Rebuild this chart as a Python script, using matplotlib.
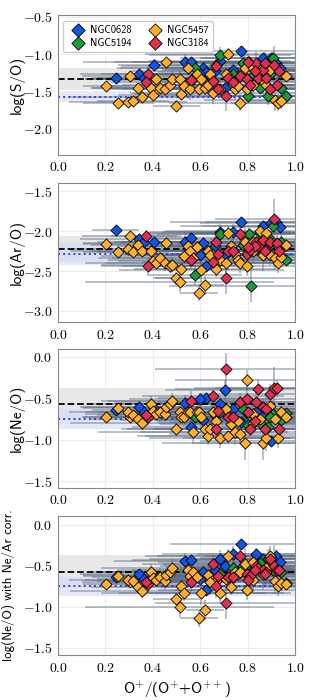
import numpy as np
import matplotlib
matplotlib.use("Agg")
import matplotlib.pyplot as plt
from matplotlib.ticker import FuncFormatter, MultipleLocator

# O+/(O+ + O++) por galáxia (compartilhado entre os painéis)
x_0628 = [0.243, 0.342, 0.363, 0.404, 0.537, 0.560, 0.612, 0.623, 0.684, 0.703,
          0.771, 0.865, 0.920, 0.935, 0.738, 0.837, 0.661, 0.598, 0.900]
x_5194 = [0.682, 0.577, 0.806, 0.802, 0.886, 0.907, 0.960, 0.816, 0.738, 0.852,
          0.940, 0.780, 0.893]
x_3184 = [0.380, 0.373, 0.560, 0.654, 0.665, 0.707, 0.717, 0.767, 0.795, 0.809,
          0.837, 0.844, 0.865, 0.879, 0.893, 0.911, 0.922, 0.872, 0.675, 0.830,
          0.802, 0.930, 0.738]
x_5457 = [0.204, 0.253, 0.302, 0.295, 0.316, 0.338, 0.352, 0.394, 0.401, 0.415,
          0.429, 0.450, 0.457, 0.471, 0.482, 0.499, 0.513, 0.520, 0.532, 0.549,
          0.556, 0.570, 0.584, 0.595, 0.605, 0.619, 0.633, 0.654, 0.668, 0.682,
          0.717, 0.731, 0.745, 0.760, 0.767, 0.788, 0.795, 0.823, 0.851, 0.865,
          0.879, 0.893, 0.914, 0.928, 0.942, 0.960, 0.707, 0.640, 0.823]

# erros em x
xe_0628 = [0.10, 0.25, 0.20, 0.15, 0.30, 0.25, 0.35, 0.20, 0.30, 0.25,
           0.30, 0.35, 0.30, 0.20, 0.30, 0.25, 0.35, 0.30, 0.30]
xe_5194 = [0.30, 0.20, 0.25, 0.30, 0.20, 0.30, 0.10, 0.35, 0.25, 0.30,
           0.15, 0.35, 0.25]
xe_3184 = [0.20, 0.15, 0.35, 0.30, 0.40, 0.30, 0.25, 0.35, 0.30, 0.40,
           0.25, 0.35, 0.30, 0.40, 0.30, 0.25, 0.35, 0.30, 0.40, 0.30,
           0.35, 0.25, 0.30]
xe_5457 = [0.10, 0.15, 0.20, 0.25, 0.15, 0.20, 0.30, 0.25, 0.15, 0.30,
           0.20, 0.25, 0.35, 0.20, 0.30, 0.10, 0.40, 0.20, 0.35, 0.30,
           0.20, 0.40, 0.30, 0.08, 0.35, 0.08, 0.30, 0.35, 0.25, 0.30,
           0.35, 0.30, 0.40, 0.25, 0.30, 0.35, 0.30, 0.25, 0.40, 0.30,
           0.35, 0.25, 0.30, 0.20, 0.15, 0.10, 0.30, 0.35, 0.40]

# erros em y
ye_0628 = [0.04, 0.06, 0.05, 0.08, 0.10, 0.06, 0.08, 0.06, 0.10, 0.12,
           0.05, 0.06, 0.08, 0.06, 0.10, 0.08, 0.12, 0.08, 0.06]
ye_5194 = [0.10, 0.12, 0.08, 0.10, 0.12, 0.08, 0.06, 0.20, 0.10, 0.08,
           0.10, 0.12, 0.08]
ye_3184 = [0.10, 0.08, 0.12, 0.10, 0.15, 0.20, 0.10, 0.12, 0.18, 0.10,
           0.15, 0.12, 0.10, 0.15, 0.12, 0.25, 0.10, 0.15, 0.10, 0.12,
           0.10, 0.08, 0.15]
ye_5457 = [0.04, 0.05, 0.06, 0.05, 0.05, 0.06, 0.08, 0.10, 0.06, 0.08,
           0.12, 0.10, 0.06, 0.08, 0.10, 0.08, 0.12, 0.08, 0.10, 0.10,
           0.15, 0.12, 0.08, 0.10, 0.15, 0.12, 0.10, 0.15, 0.10, 0.12,
           0.08, 0.10, 0.15, 0.10, 0.12, 0.20, 0.12, 0.15, 0.10, 0.20,
           0.15, 0.12, 0.15, 0.12, 0.10, 0.08, 0.12, 0.15, 0.10]

# log(S/O)
so_0628 = [-1.32, -1.26, -1.32, -1.15, -1.10, -1.11, -1.19, -1.24, -1.09, -1.45,
           -0.96, -1.05, -1.12, -1.19, -1.21, -1.21, -1.23, -1.27, -1.05]
so_5194 = [-1.01, -1.19, -1.10, -1.56, -1.56, -1.05, -1.56, -1.32, -1.27, -1.45,
           -1.45, -1.12, -1.27]
so_3184 = [-1.26, -1.38, -1.35, -1.36, -1.16, -1.56, -1.32, -1.30, -1.34, -1.41,
           -1.12, -1.32, -1.21, -1.32, -1.47, -1.14, -1.41, -1.12, -1.47, -1.23,
           -1.10, -1.23, -1.38]
so_5457 = [-1.43, -1.65, -1.29, -1.64, -1.63, -1.45, -1.58, -1.45, -1.55, -1.34,
           -1.45, -1.47, -1.11, -1.41, -1.33, -1.69, -1.34, -1.54, -1.43, -1.19,
           -1.47, -1.34, -1.27, -1.47, -1.34, -1.45, -1.42, -1.52, -1.14, -1.47,
           -1.00, -1.34, -1.47, -1.43, -1.65, -1.19, -1.47, -1.41, -1.21, -1.36,
           -1.41, -1.21, -1.61, -1.65, -1.63, -1.29, -1.26, -1.26, -1.19]

# log(Ar/O)
ar_0628 = [-1.98, -2.10, -2.13, -2.14, -2.14, -2.08, -2.15, -2.44, -2.01, -2.30,
           -1.88, -1.94, -1.89, -1.95, -2.01, -2.22, -2.18, -2.30, -1.90]
ar_5194 = [-2.04, -2.55, -2.04, -2.15, -2.20, -1.94, -2.36, -2.69, -2.23, -2.02,
           -2.13, -2.17, -2.10]
ar_3184 = [-2.44, -2.06, -2.36, -2.38, -2.13, -2.59, -2.25, -2.04, -2.28, -2.23,
           -2.13, -2.19, -2.11, -2.23, -2.13, -1.84, -2.15, -2.25, -2.28, -2.19,
           -2.20, -2.25, -2.25]
ar_5457 = [-2.16, -2.26, -2.06, -2.22, -2.26, -2.17, -2.25, -2.25, -2.37, -2.40,
           -2.33, -2.40, -2.15, -2.44, -2.42, -2.59, -2.64, -2.47, -2.31, -2.19,
           -2.25, -2.33, -2.20, -2.78, -2.49, -2.68, -2.25, -2.30, -2.47, -2.36,
           -2.02, -2.19, -2.28, -2.36, -2.40, -2.13, -2.44, -2.25, -2.00, -2.30,
           -2.02, -2.30, -2.34, -2.40, -2.32, -2.17, -2.40, -2.30, -2.14]

# log(Ne/O)
ne_0628 = [-0.64, -0.61, -0.66, -0.62, -0.56, -0.85, -0.76, -0.50, -0.57, -0.40,
           -0.78, -0.68, -0.74, -0.72, -0.63, -0.66, -0.70, -0.51, -1.02]
ne_5194 = [-0.66, -0.72, -0.70, -0.82, -0.85, -0.69, -0.68, -0.72, -0.74, -0.80,
           -0.76, -0.63, -0.72]
ne_3184 = [-0.73, -0.70, -0.53, -0.47, -0.87, -0.15, -0.72, -0.55, -0.51, -0.87,
           -0.55, -0.39, -0.61, -0.63, -0.45, -0.37, -0.38, -0.87, -0.65, -0.77,
           -0.67, -0.87, -0.73]
ne_5457 = [-0.72, -0.62, -0.72, -0.67, -0.70, -0.75, -0.80, -0.57, -0.65, -0.69,
           -0.66, -0.69, -0.61, -0.57, -0.53, -0.87, -0.67, -0.72, -0.73, -0.67,
           -0.67, -0.91, -0.66, -0.66, -0.73, -0.87, -0.96, -0.67, -0.77, -0.98,
           -0.96, -0.81, -0.91, -0.77, -0.93, -1.04, -0.28, -0.69, -0.75, -1.04,
           -0.98, -0.59, -0.75, -0.98, -0.67, -0.72, -0.63, -0.87, -0.80]

# log(Ne/O) com correção Ne/Ar
nec_0628 = [-0.63, -0.60, -0.66, -0.62, -0.44, -0.43, -0.57, -0.79, -0.41, -0.50,
            -0.23, -0.42, -0.38, -0.45, -0.36, -0.36, -0.55, -0.66, -0.40]
nec_5194 = [-0.60, -0.62, -0.52, -0.55, -0.42, -0.55, -0.71, -0.58, -0.52, -0.47,
            -0.57, -0.50, -0.50]
nec_3184 = [-0.72, -0.70, -0.70, -0.48, -0.74, -0.95, -0.63, -0.38, -0.60, -0.62,
            -0.50, -0.52, -0.55, -0.57, -0.42, -0.50, -0.55, -0.60, -0.62, -0.55,
            -0.67, -0.55, -0.63]
nec_5457 = [-0.72, -0.62, -0.70, -0.67, -0.69, -0.76, -0.81, -0.58, -0.65, -0.67,
            -0.64, -0.69, -0.61, -0.57, -0.52, -0.90, -1.00, -0.74, -0.83, -0.55,
            -0.62, -0.57, -0.63, -1.14, -0.83, -1.04, -0.61, -0.67, -0.69, -0.83,
            -0.38, -0.76, -0.57, -0.60, -0.57, -0.48, -0.80, -0.67, -0.55, -0.60,
            -0.52, -0.38, -0.69, -0.75, -0.71, -0.72, -0.66, -0.70, -0.45]

# Valores médios (linha tracejada) e de referência (linha pontilhada)
media = [-1.33, -2.22, -0.57, -0.57]
media_lo = [-1.48, -2.38, -0.77, -0.77]
media_hi = [-1.19, -2.06, -0.37, -0.37]
ref = [-1.57, -2.28, -0.75, -0.75]
ref_lo = [-1.64, -2.42, -0.87, -0.87]
ref_hi = [-1.50, -2.14, -0.63, -0.63]

ylims = [(-2.35, -0.48), (-3.14, -1.39), (-1.58, 0.10), (-1.59, 0.11)]
ylabels = ["log(S/O)", "log(Ar/O)", "log(Ne/O)", "log(Ne/O) with Ne/Ar corr."]
ylabel_x = [-0.14, -0.14, -0.14, -0.18]
ylabel_fs = [11, 11, 11, 9.3]

galaxias = [
    ("NGC0628", "#1155e8", x_0628, xe_0628, ye_0628, [so_0628, ar_0628, ne_0628, nec_0628]),
    ("NGC5194", "#1a9a3a", x_5194, xe_5194, ye_5194, [so_5194, ar_5194, ne_5194, nec_5194]),
    ("NGC5457", "#ffae2e", x_5457, xe_5457, ye_5457, [so_5457, ar_5457, ne_5457, nec_5457]),
    ("NGC3184", "#e0304f", x_3184, xe_3184, ye_3184, [so_3184, ar_3184, ne_3184, nec_3184]),
]

plt.rcParams.update({
    "mathtext.fontset": "cm",
    "font.family": ["cmss10", "DejaVu Sans"],
    "axes.unicode_minus": False,
})

fig = plt.figure(figsize=(3.09, 7.0), dpi=100)
bottoms = [0.779, 0.540, 0.303, 0.064]

tick_fmt = FuncFormatter(lambda v, p: r"$%.1f$" % v)

for i in range(4):
    ax = fig.add_axes([0.188, bottoms[i], 0.767, 0.199])

    # faixas
    ax.axhspan(media_lo[i], media_hi[i], color="#e2e2e2", alpha=0.8, lw=0, zorder=0)
    ax.axhspan(ref_lo[i], ref_hi[i], color="#d5daf6", alpha=0.6, lw=0, zorder=0)

    for nome, cor, x, xe, ye, ys in galaxias:
        ax.errorbar(x, ys[i], xerr=xe, yerr=ye, fmt="none",
                    ecolor="#5c6b82", alpha=0.55, elinewidth=1.1, zorder=1)

    ax.axhline(media[i], color="black", ls="--", lw=1.3, zorder=2)
    ax.axhline(ref[i], color="#2a3de0", ls=":", lw=1.4, zorder=2)

    for nome, cor, x, xe, ye, ys in galaxias:
        ax.scatter(x, ys[i], marker="D", s=32, color=cor, edgecolor="black",
                   linewidth=0.6, zorder=3, label=nome)

    ax.set_xlim(0, 1)
    ax.set_ylim(*ylims[i])
    ax.xaxis.set_major_locator(MultipleLocator(0.2))
    ax.yaxis.set_major_locator(MultipleLocator(0.5))
    ax.xaxis.set_major_formatter(tick_fmt)
    ax.yaxis.set_major_formatter(tick_fmt)
    ax.tick_params(length=0, labelsize=10, pad=4)
    ax.grid(True, color="#ececec", linewidth=0.8, zorder=-1)
    ax.set_axisbelow(True)
    for s in ax.spines.values():
        s.set_color("#888888")
    ax.set_ylabel(ylabels[i], fontsize=ylabel_fs[i])
    ax.yaxis.set_label_coords(ylabel_x[i], 0.5)

    if i == 0:
        ax.legend(loc="upper left", ncol=2, fontsize=7.5, frameon=True,
                  handletextpad=0.2, columnspacing=1.2, borderpad=0.4,
                  labelspacing=0.3, fancybox=True, framealpha=1,
                  markerscale=1.2)
    if i == 3:
        ax.set_xlabel(r"O$^{+}$/(O$^{+}$+O$^{++}$)", fontsize=11)

plt.savefig("out.png", dpi=100)
